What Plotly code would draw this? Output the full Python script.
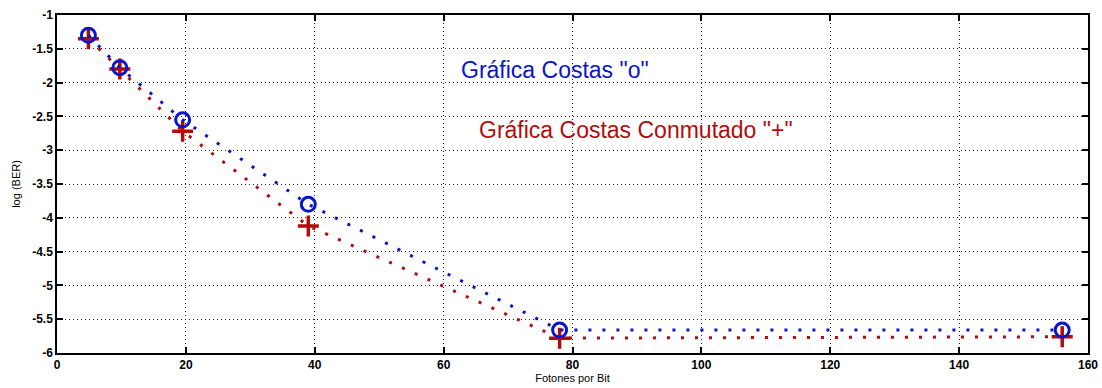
import plotly.graph_objects as go

fotones = [4.875, 9.75, 19.5, 39, 78, 156]
ber_costas = [-1.30, -1.78, -2.55, -3.80, -5.66, -5.66]
ber_conmutado = [-1.35, -1.80, -2.72, -4.12, -5.78, -5.76]

x_ticks = [0, 20, 40, 60, 80, 100, 120, 140, 160]
y_ticks = [-1, -1.5, -2, -2.5, -3, -3.5, -4, -4.5, -5, -5.5, -6]
y_labels = ["-1", "-1.5", "-2", "-2.5", "-3", "-3.5", "-4", "-4.5", "-5", "-5.5", "-6"]

blue = "#0a14c8"
red = "#b40a0a"

fig = go.Figure()
fig.add_trace(go.Scatter(
    x=fotones, y=ber_conmutado, mode="lines+markers",
    line=dict(color=red, width=3, dash="3px,11px"),
    marker=dict(symbol="cross-thin-open", size=15, line=dict(color=red, width=3.5)),
    showlegend=False))
fig.add_trace(go.Scatter(
    x=fotones, y=ber_costas, mode="lines+markers",
    line=dict(color=blue, width=3, dash="3px,11px"),
    marker=dict(symbol="circle-open", size=14, line=dict(color=blue, width=3)),
    showlegend=False))

fig.add_annotation(x=77.3, y=-1.81, text='Gráfica Costas "o"', showarrow=False,
                   font=dict(color="#0a14c8", size=23, family="Liberation Sans"))
fig.add_annotation(x=89.8, y=-2.70, text='Gráfica Costas Conmutado "+"', showarrow=False,
                   font=dict(color="#b40a0a", size=23, family="Liberation Sans"))

axis_common = dict(
    showline=True, linecolor="black", linewidth=1.5, mirror="ticks",
    ticks="inside", ticklen=6, tickwidth=1.5, tickcolor="black",
    showgrid=True, gridcolor="#222222", griddash="1px,3px", gridwidth=1,
    zeroline=False, automargin=False,
    tickfont=dict(family="Liberation Sans", size=12, color="black", weight="bold"),
)

fig.update_xaxes(range=[0, 160], tickvals=x_ticks,
                 title=dict(text="Fotones por Bit", font=dict(family="Liberation Sans", size=11, color="black"), standoff=2),
                 **axis_common)
fig.update_yaxes(range=[-6, -1], tickvals=y_ticks, ticktext=y_labels,
                 title=dict(text="log (BER)", font=dict(family="Liberation Sans", size=11, color="black"), standoff=9),
                 **axis_common)

fig.update_layout(
    width=1102, height=388,
    margin=dict(l=57, r=14, t=15, b=35),
    plot_bgcolor="white", paper_bgcolor="white",
)

fig.write_html("out.html")
